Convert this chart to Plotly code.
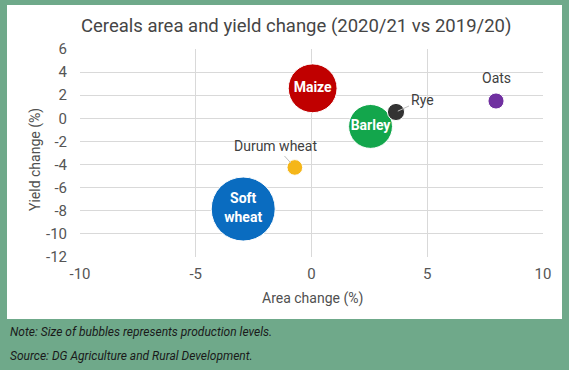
import plotly.graph_objects as go

crops = ["Maize", "Barley", "Rye", "Durum wheat", "Soft wheat", "Oats"]
area_change = [0.05, 2.55, 3.65, -0.72, -2.95, 7.97]
yield_change = [2.6, -0.7, 0.55, -4.25, -7.85, 1.5]
production = [68, 55, 8.4, 7.0, 117, 7.4]
colors = ["#c00000", "#13a64c", "#333333", "#f5b619", "#0a6cc0", "#7030a0"]
inside_labels = ["Maize", "Barley", "", "", "Soft<br>wheat", ""]

x_ticks = [-10, -5, 0, 5, 10]
x_tick_labels = ["-10", "-5", "0", "5", "10"]
y_ticks = [6, 4, 2, 0, -2, -4, -6, -8, -10, -12]
y_tick_labels = ["6", "4", "2", "0", "-2", "-4", "-6", "-8", "-10", "-12"]

GREEN = "#6fa98a"
FONT = "Roboto"
max_d = 64
sizeref = 2.0 * max(production) / (max_d ** 2)

fig = go.Figure()
fig.add_trace(go.Scatter(
    x=area_change, y=yield_change, mode="markers+text",
    text=inside_labels, textposition="middle center",
    textfont=dict(family=FONT, size=14, color="white", weight="bold"),
    marker=dict(size=production, sizemode="area", sizeref=sizeref,
                color=colors, opacity=1, line=dict(color="white", width=1)),
    hoverinfo="skip", showlegend=False, cliponaxis=False,
))

W, H = 569, 370
L, R, T, B = 80, 26, 49, 113
PW, PH = W - L - R, H - T - B

def xp(p):
    return (p - L) / PW

def yp(p):
    return (H - B - p) / PH

# white panel
fig.add_shape(type="rect", xref="paper", yref="paper",
              x0=xp(7), x1=xp(562), y0=yp(319), y1=yp(5),
              fillcolor="white", line=dict(width=0), layer="below")

label_color = "#404040"
fig.add_annotation(x=area_change[2], y=yield_change[2], text="Rye",
                   ax=26, ay=-12, showarrow=True, arrowhead=0, arrowwidth=1,
                   arrowcolor="#bfbfbf", standoff=2,
                   font=dict(family=FONT, size=14, color=label_color))
fig.add_annotation(x=area_change[3], y=yield_change[3], text="Durum wheat",
                   ax=-19, ay=-21, showarrow=True, arrowhead=0, arrowwidth=1,
                   arrowcolor="#bfbfbf", standoff=6,
                   font=dict(family=FONT, size=14, color=label_color))
fig.add_annotation(x=area_change[5], y=yield_change[5], text="Oats",
                   showarrow=False, yshift=23,
                   font=dict(family=FONT, size=14, color=label_color))

fig.add_annotation(xref="paper", yref="paper", x=xp(296), y=yp(26),
                   text="Cereals area and yield change (2020/21 vs 2019/20)",
                   showarrow=False, xanchor="center", yanchor="middle",
                   font=dict(family=FONT, size=18.5, color="#454545"))
fig.add_annotation(xref="paper", yref="paper", x=xp(312), y=yp(298),
                   text="Area change (%)",
                   showarrow=False, xanchor="center", yanchor="middle",
                   font=dict(family=FONT, size=14, color="#505050"))
fig.add_annotation(xref="paper", yref="paper", x=xp(35), y=yp(160),
                   text="Yield change (%)",
                   showarrow=False, xanchor="center", yanchor="middle", textangle=-90,
                   font=dict(family=FONT, size=14, color="#505050"))
fig.add_annotation(xref="paper", yref="paper", x=xp(8), y=yp(332),
                   text="<i>Note: Size of bubbles represents production levels.</i>",
                   showarrow=False, xanchor="left", yanchor="middle",
                   font=dict(family=FONT, size=12, color="#1a1a1a"))
fig.add_annotation(xref="paper", yref="paper", x=xp(8), y=yp(356),
                   text="<i>Source: DG Agriculture and Rural Development.</i>",
                   showarrow=False, xanchor="left", yanchor="middle",
                   font=dict(family=FONT, size=12, color="#1a1a1a"))

fig.update_xaxes(range=[-10, 10], tickvals=x_ticks, ticktext=x_tick_labels, automargin=False,
                 showgrid=True, gridcolor="#d9d9d9", gridwidth=1,
                 zeroline=False, showline=False, ticks="",
                 tickfont=dict(family=FONT, size=15, color="#555555"), ticklabelstandoff=6)
fig.update_yaxes(range=[-12, 6], tickvals=y_ticks, ticktext=y_tick_labels, automargin=False,
                 showgrid=True, gridcolor="#d9d9d9", gridwidth=1,
                 zeroline=False, showline=False, ticks="",
                 tickfont=dict(family=FONT, size=15, color="#555555"), ticklabelstandoff=12)

fig.update_layout(width=W, height=H, margin=dict(l=L, r=R, t=T, b=B, autoexpand=False),
                  paper_bgcolor=GREEN, plot_bgcolor="white",
                  font=dict(family=FONT), showlegend=False)

fig.write_html("out.html", config={"displayModeBar": False},
               post_script="document.body.style.margin='0';")
